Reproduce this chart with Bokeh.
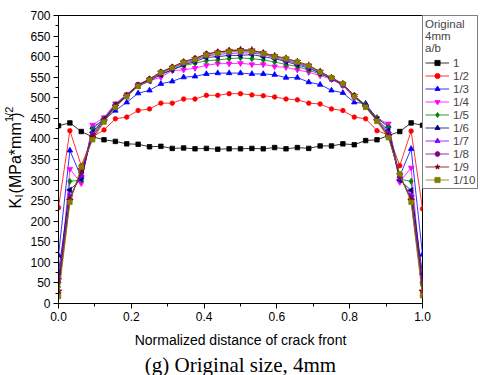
import numpy as np
from bokeh.plotting import figure
from bokeh.models import (Legend, LegendItem, Range1d, FixedTicker,
                          PrintfTickFormatter, Title)
from bokeh.embed import file_html
from bokeh.resources import INLINE

# ---------------- data ----------------
# 33 evenly spaced nodes along the normalized crack front
positions = np.linspace(0.0, 1.0, 33)

ab_labels = ["1", "1/2", "1/3", "1/4", "1/5", "1/6", "1/7", "1/8", "1/9", "1/10"]

k_1 = [432, 439, 418, 405, 398, 394, 388, 387, 381, 382, 377, 378, 376, 377, 375, 376, 376,
       377, 376, 379, 376, 379, 377, 383, 383, 388, 386, 396, 398, 408, 418, 439, 433]
k_1_2 = [233, 420, 335, 405, 422, 449, 453, 469, 473, 487, 487, 497, 497, 506, 506, 510, 510,
         507, 505, 502, 497, 495, 487, 485, 473, 469, 453, 449, 420, 410, 335, 419, 230]
k_1_3 = [117, 372, 307, 429, 446, 469, 489, 511, 518, 534, 540, 550, 552, 558, 560, 560, 560,
         558, 558, 556, 549, 549, 538, 532, 518, 512, 489, 486, 449, 432, 310, 376, 119]
k_1_4 = [24, 327, 292, 434, 452, 486, 508, 532, 541, 550, 566, 568, 572, 579, 583, 583, 584,
         581, 581, 576, 574, 568, 562, 554, 545, 530, 500, 480, 450, 437, 295, 330, 28]
k_1_5 = [40, 297, 300, 423, 450, 484, 507, 531, 544, 558, 568, 578, 584, 590, 592, 595, 597,
         595, 592, 587, 581, 576, 567, 558, 548, 534, 505, 483, 452, 428, 302, 297, 44]
k_1_6 = [76, 276, 303, 416, 448, 482, 505, 528, 541, 556, 568, 580, 588, 598, 600, 603, 603,
         605, 600, 595, 588, 580, 572, 560, 546, 532, 504, 480, 447, 420, 300, 275, 72]
k_1_7 = [60, 262, 310, 412, 447, 481, 505, 530, 544, 560, 572, 583, 591, 602, 605, 608, 609,
         609, 605, 598, 590, 584, 574, 560, 546, 531, 503, 479, 446, 415, 305, 262, 55]
k_1_8 = [52, 255, 318, 408, 445, 481, 506, 532, 546, 563, 575, 588, 596, 607, 611, 614, 616,
         614, 609, 601, 594, 586, 577, 563, 548, 533, 504, 478, 445, 410, 310, 255, 50]
k_1_9 = [30, 250, 325, 403, 443, 479, 504, 530, 545, 562, 574, 587, 595, 606, 611, 615, 617,
         616, 609, 602, 596, 588, 579, 564, 549, 534, 505, 478, 444, 406, 313, 250, 30]
k_1_10 = [17, 246, 332, 398, 441, 477, 503, 528, 543, 561, 573, 586, 593, 604, 608, 612, 613,
          612, 607, 600, 595, 587, 578, 562, 549, 534, 503, 477, 443, 403, 315, 246, 19]

series_values = [k_1, k_1_2, k_1_3, k_1_4, k_1_5, k_1_6, k_1_7, k_1_8, k_1_9, k_1_10]

x_ticks = [0.0, 0.2, 0.4, 0.6, 0.8, 1.0]
x_minor = [0.1, 0.3, 0.5, 0.7, 0.9]
y_ticks = list(range(0, 701, 50))
y_minor = list(range(25, 700, 50))

# ---------------- styles ----------------
colors = ["#000000", "#FF0000", "#0000FF", "#FF00FF", "#008000", "#000080",
          "#8000FF", "#800080", "#800000", "#808000"]
markers = ["square", "circle", "triangle", "inverted_triangle", "diamond", "triangle",
           "triangle", "hex", "star", "square"]
angles = [0, 0, 0, 0, 0, np.pi / 2, -np.pi / 2, 0, 0, 0]
sizes = [4.5, 4.5, 5.5, 5.5, 6, 5.5, 5.5, 5, 7, 4.5]

FW, FH = 364, 288  # frame size in px

p = figure(frame_width=FW, frame_height=FH, x_range=Range1d(0, 1), y_range=Range1d(0, 700),
           output_backend="svg", toolbar_location=None,
           min_border_left=58, min_border_right=58, min_border_top=15, min_border_bottom=70)

p.xgrid.visible = False
p.ygrid.visible = False
p.outline_line_color = "black"
p.outline_line_width = 1
p.background_fill_color = "white"
p.border_fill_color = "white"

items = []
for lab, vals, c, m, a, s in zip(ab_labels, series_values, colors, markers, angles, sizes):
    lr = p.line(positions, vals, line_color=c, line_width=1, line_alpha=0.8)
    sr = p.scatter(positions, vals, marker=m, size=s, angle=a, fill_color=c, line_color=c,
                   line_width=0.8)
    items.append(LegendItem(label=lab, renderers=[lr, sr]))

# axes
for ax in (p.xaxis[0], p.yaxis[0]):
    ax.axis_line_color = "black"
    ax.axis_line_width = 1
    ax.major_tick_line_color = "black"
    ax.minor_tick_line_color = "black"
    ax.major_tick_in = 0
    ax.major_tick_out = 5
    ax.minor_tick_in = 0
    ax.minor_tick_out = 3
    ax.major_label_text_font = "Liberation Sans"
    ax.major_label_text_font_size = "12px"
    ax.major_label_text_color = "black"
    ax.major_label_standoff = 3

p.xaxis.ticker = FixedTicker(ticks=x_ticks, minor_ticks=x_minor)
p.xaxis.formatter = PrintfTickFormatter(format="%.1f")
p.yaxis.ticker = FixedTicker(ticks=y_ticks, minor_ticks=y_minor)
p.xaxis.axis_label = "Normalized distance of crack front"
p.xaxis.axis_label_text_font = "Liberation Sans"
p.xaxis.axis_label_text_font_size = "14px"
p.xaxis.axis_label_text_font_style = "normal"
p.xaxis.axis_label_text_color = "black"
p.xaxis.axis_label_standoff = 8

# ---- y-axis label "K_I(MPa*mm^1/2)" built from titles in the left panel ----
# (text, font px, wanted x of the text's bottom edge in canvas px, offset up from frame bottom)
AXIS_RIGHT_EDGE = 58 - 28          # left edge of the tick-label column
ylabel_parts = [
    ("I", 11, 27.3, 106.0),
    ("1/2", 11, 17.3, 181.5),
    ("K (MPa*mm    )", 16, 25.4, 95.0),
]
edge = AXIS_RIGHT_EDGE
for txt, fs, xb, off in ylabel_parts:
    h = 1.117 * fs
    sd = 2.0 * (edge - xb)
    try:
        t = Title(text=txt, align="left", vertical_align="bottom", offset=off, standoff=sd,
                  text_font="Liberation Sans", text_font_size=f"{fs}px",
                  text_font_style="normal", text_color="black")
    except Exception:
        t = Title(text=txt, align="left", vertical_align="bottom", offset=off, standoff=0,
                  text_font="Liberation Sans", text_font_size=f"{fs}px",
                  text_font_style="normal", text_color="black")
        sd = 0
    p.add_layout(t, "left")
    edge = edge - (2 + h + sd)

# caption below the axis
p.add_layout(Title(text="(g) Original size, 4mm", align="center", text_font="Liberation Serif",
                   text_font_size="21px", text_font_style="normal", text_color="black",
                   standoff=0), "below")

legend = Legend(items=items, location="top_left", margin=0, padding=2, spacing=0,
                glyph_width=24, glyph_height=13, label_height=13, label_standoff=4,
                label_text_font="Liberation Sans", label_text_font_size="11.5px",
                border_line_color="black", border_line_width=1,
                background_fill_color="white", background_fill_alpha=1.0,
                title="Original\n4mm\na/b", title_text_font="Liberation Sans",
                title_text_font_size="11.5px", title_text_font_style="normal",
                title_standoff=2)
p.add_layout(legend, "right")

open("out.html", "w").write(file_html(p, INLINE))
